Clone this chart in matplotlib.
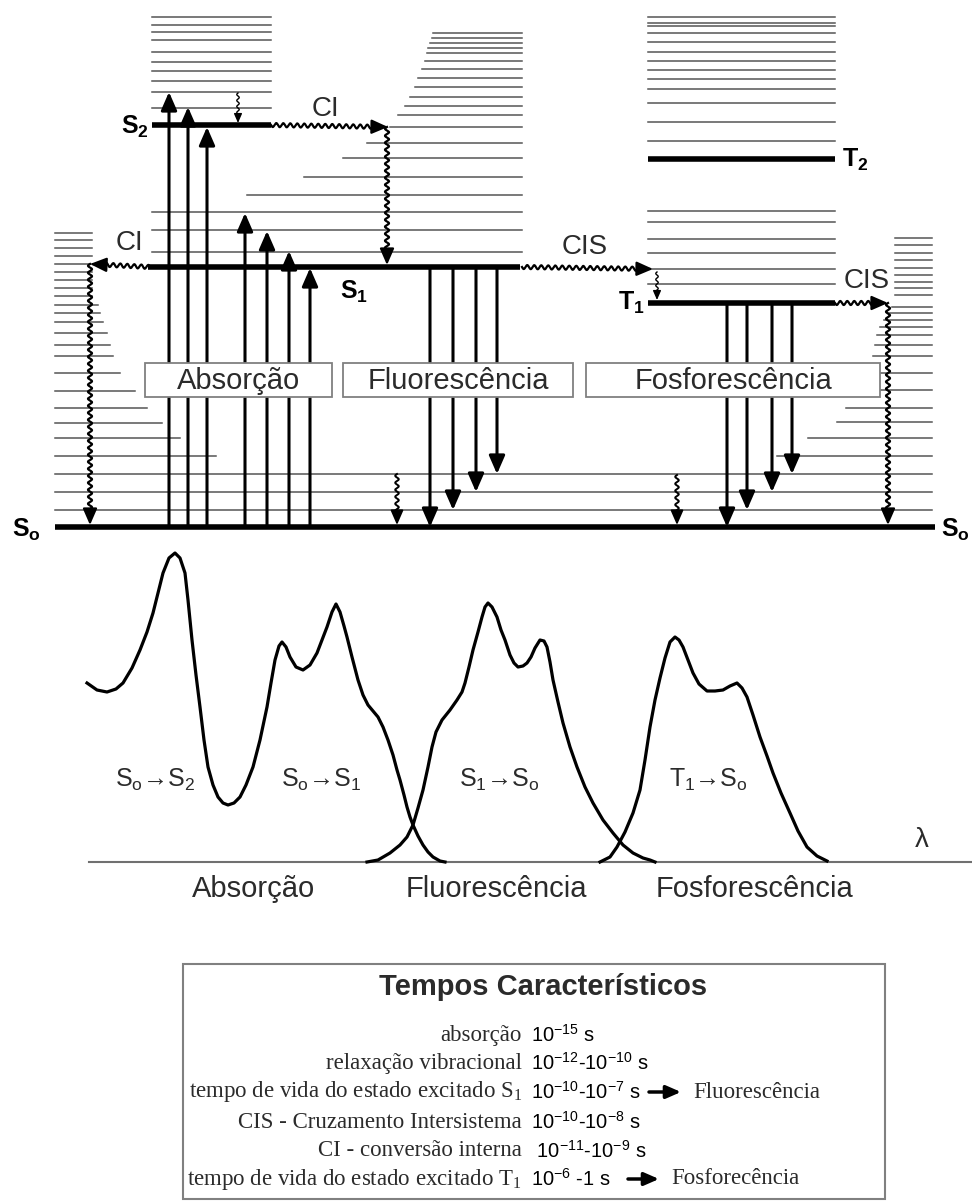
import numpy as np
import matplotlib.pyplot as plt
from matplotlib.patches import Rectangle

plt.rcParams['font.family'] = 'Liberation Sans'
plt.rcParams['mathtext.fontset'] = 'custom'
plt.rcParams['mathtext.rm'] = 'Liberation Sans'
plt.rcParams['mathtext.bf'] = 'Liberation Sans:bold'
plt.rcParams['mathtext.it'] = 'Liberation Sans:italic'

# --- electronic levels (pixel coords of the original drawing) ---
level_names = [r'$\mathbf{S}_\mathbf{o}$', r'$\mathbf{S}_\mathbf{1}$', r'$\mathbf{S}_\mathbf{2}$',
               r'$\mathbf{T}_\mathbf{1}$', r'$\mathbf{T}_\mathbf{2}$']
level_y = [527, 267, 125, 303, 159]
level_x0 = [55, 148, 152, 648, 648]
level_x1 = [935, 520, 271, 835, 835]

# vibrational sub-levels
s2_vib_y = [17, 25, 32, 40, 52, 62, 71, 81, 92, 108]
s1_vib_y = [33, 38, 43, 48, 53, 61, 69, 78, 87, 97, 106, 115, 127, 143, 158, 177, 195, 212, 230, 252]
s1_vib_x0 = [433, 432, 430, 428, 427, 425, 422, 418, 415, 410, 405, 398, 390, 367, 343, 304, 247, 152, 152, 152]
t_vib_y = [17, 23, 26, 33, 42, 52, 61, 70, 79, 89, 103, 122, 141, 211, 222, 239, 253, 269, 284]
s0_left_y = [233, 240, 248, 256, 264, 272, 280, 288, 296, 305, 313, 322, 333, 345, 356, 373, 391, 408, 423, 438, 456]
s0_left_x1 = [92, 92, 92, 92, 92, 92, 92, 92, 92, 98, 100, 103, 107, 110, 113, 120, 135, 147, 162, 180, 216]
s0_right_y = [238, 245, 253, 260, 268, 275, 282, 288, 295, 307, 313, 320, 327, 335, 345, 356, 373, 390, 408, 422, 438, 456]
s0_right_x0 = [895, 895, 895, 895, 895, 895, 895, 895, 895, 892, 888, 884, 880, 877, 875, 873, 873, 872, 846, 837, 808, 777]
s0_full_y = [474, 492, 510]

# radiative transitions
abs_x = [169, 188, 207, 245, 267, 289, 310]
abs_top = [92, 107, 127, 213, 231, 251, 268]
flu_x = [430, 453, 476, 497]
flu_tip = [527, 510, 492, 474]
pho_x = [727, 747, 772, 792]
pho_tip = [527, 510, 492, 474]

# spectra
abs_px = [87, 97, 107, 116, 123, 132, 140, 147, 153, 158, 163, 169, 175, 180, 185, 188, 192, 196, 200, 204,
          208, 213, 218, 223, 228, 234, 240, 246, 253, 260, 267, 271, 275, 279, 282, 286, 290, 296, 303, 310,
          317, 322, 327, 332, 336, 340, 344, 347, 352, 358, 363, 368, 373, 378, 383, 388, 393, 397, 400, 404,
          407, 410, 413, 418, 423, 428, 433, 440, 445]
abs_py = [683, 690, 692, 689, 683, 668, 650, 632, 613, 593, 573, 558, 553, 558, 573, 600, 640, 675, 707, 740,
          767, 785, 797, 803, 805, 803, 797, 785, 767, 740, 707, 683, 660, 646, 642, 647, 657, 667, 670, 665,
          653, 640, 627, 612, 604, 612, 626, 637, 657, 680, 695, 705, 711, 717, 727, 740, 755, 770, 780, 795,
          807, 817, 825, 836, 845, 852, 857, 861, 862]
flu_px = [367, 378, 390, 400, 407, 413, 418, 423, 428, 432, 436, 442, 450, 457, 462, 465, 469, 473, 478, 482,
          485, 488, 492, 497, 501, 505, 510, 514, 518, 523, 527, 531, 535, 540, 544, 547, 550, 553, 558, 563,
          570, 577, 585, 593, 603, 613, 623, 633, 643, 650, 655]
flu_py = [862, 860, 853, 845, 837, 825, 808, 790, 767, 747, 732, 720, 710, 700, 692, 683, 667, 650, 632, 617,
          607, 603, 607, 617, 630, 640, 655, 663, 667, 666, 663, 657, 648, 640, 641, 647, 662, 680, 702, 723,
          747, 767, 787, 803, 820, 833, 845, 853, 858, 860, 862]
pho_px = [600, 610, 617, 625, 633, 640, 645, 650, 655, 660, 665, 670, 675, 679, 683, 688, 693, 699, 707, 715,
          723, 730, 737, 742, 747, 753, 760, 767, 773, 781, 790, 798, 807, 817, 827]
pho_py = [862, 857, 847, 832, 813, 790, 760, 727, 700, 678, 658, 642, 637, 640, 647, 660, 673, 684, 691, 691,
          690, 686, 683, 688, 697, 715, 737, 756, 773, 793, 813, 831, 847, 856, 861]

# table of characteristic times
row_labels = ['absorção', 'relaxação vibracional', r'tempo de vida do estado excitado S$_\mathregular{1}$',
              'CIS - Cruzamento Intersistema', 'CI - conversão interna',
              r'tempo de vida do estado excitado T$_\mathregular{1}$']
row_times = [r'$\mathregular{10^{-15}}$ s', r'$\mathregular{10^{-12}}$-$\mathregular{10^{-10}}$ s',
             r'$\mathregular{10^{-10}}$-$\mathregular{10^{-7}}$ s', r'$\mathregular{10^{-10}}$-$\mathregular{10^{-8}}$ s',
             r' $\mathregular{10^{-11}}$-$\mathregular{10^{-9}}$ s', r'$\mathregular{10^{-6}}$ -1 s']
row_y = [1035, 1063, 1092, 1122, 1151, 1179]

TXT = '#2b2b2b'
VIB = '#555555'

fig = plt.figure(figsize=(9.72, 12.02), dpi=100)
ax = fig.add_axes([0, 0, 1, 1])
ax.set_xlim(0, 972)
ax.set_ylim(1202, 0)
ax.axis('off')


def arrow(x0, y0, x1, y1, lw=2.2, hl=0.55, hw=0.24, ms=20):
    ax.annotate('', xy=(x1, y1), xytext=(x0, y0),
                arrowprops=dict(arrowstyle=f'-|>,head_length={hl},head_width={hw}', lw=lw, color='k',
                                mutation_scale=ms, shrinkA=0, shrinkB=0), zorder=4)


def wavy(x0, y0, x1, y1, amp=2.0, wl=7.0, lw=1.6, head=14, ms=18):
    L = np.hypot(x1 - x0, y1 - y0)
    ux, uy = (x1 - x0) / L, (y1 - y0) / L
    s = np.linspace(0, L - head * 0.7, int(L * 3) + 2)
    w = amp * np.sin(2 * np.pi * s / wl)
    ax.plot(x0 + ux * s - uy * w, y0 + uy * s + ux * w, color='k', lw=lw, zorder=4)
    arrow(x1 - ux * head, y1 - uy * head, x1, y1, lw=lw, ms=ms)


# vibrational levels
for y in s2_vib_y:
    ax.plot([152, 271], [y, y], color=VIB, lw=1.1)
for y, x0 in zip(s1_vib_y, s1_vib_x0):
    ax.plot([x0, 522], [y, y], color=VIB, lw=1.1)
for y in t_vib_y:
    ax.plot([648, 835], [y, y], color=VIB, lw=1.1)
for y, x1 in zip(s0_left_y, s0_left_x1):
    ax.plot([55, x1], [y, y], color=VIB, lw=1.1)
for y, x0 in zip(s0_right_y, s0_right_x0):
    ax.plot([x0, 932], [y, y], color=VIB, lw=1.1)
for y in s0_full_y:
    ax.plot([55, 932], [y, y], color=VIB, lw=1.1)

# electronic levels
for y, x0, x1 in zip(level_y, level_x0, level_x1):
    ax.plot([x0, x1], [y, y], color='k', lw=4, solid_capstyle='butt', zorder=3)

lab = dict(fontsize=18, color='k')
ax.text(12, 530, level_names[0], ha='left', va='center', **lab)
ax.text(941, 530, level_names[0], ha='left', va='center', **lab)
ax.text(340, 292, level_names[1], ha='left', va='center', **lab)
ax.text(149, 127, level_names[2], ha='right', va='center', **lab)
ax.text(645, 303, level_names[3], ha='right', va='center', **lab)
ax.text(842, 160, level_names[4], ha='left', va='center', **lab)

# absorption / emission arrows
for x, top in zip(abs_x, abs_top):
    arrow(x, 527, x, top, lw=2.2)
for x, tip in zip(flu_x, flu_tip):
    arrow(x, 267, x, tip, lw=2.2)
for x, tip in zip(pho_x, pho_tip):
    arrow(x, 303, x, tip, lw=2.2)

# non-radiative transitions
wavy(271, 125, 388, 127)
wavy(387, 127, 387, 265)
wavy(150, 267, 90, 264)
wavy(90, 264, 90, 525)
wavy(522, 267, 653, 269)
wavy(835, 303, 888, 303)
wavy(888, 303, 888, 525)
wavy(238, 93, 238, 123, amp=1.2, wl=6, lw=1.0, head=8, ms=10)
wavy(657, 272, 657, 300, amp=1.2, wl=6, lw=1.0, head=8, ms=10)
wavy(397, 474, 397, 525, amp=1.8, wl=7, lw=1.4, head=12, ms=16)
wavy(677, 475, 677, 525, amp=1.8, wl=7, lw=1.4, head=12, ms=16)

for txt, x, y in [('CI', 325, 109), ('CI', 129, 243), ('CIS', 585, 247), ('CIS', 867, 281)]:
    ax.text(x, y, txt, ha='center', va='center', fontsize=20, color=TXT, zorder=5)

# process boxes
for txt, x0, x1 in [('Absorção', 145, 332), ('Fluorescência', 343, 573), ('Fosforescência', 586, 880)]:
    ax.add_patch(Rectangle((x0, 363), x1 - x0, 34, facecolor='white', edgecolor='#808080', lw=1.3, zorder=6))
    ax.text((x0 + x1) / 2, 381, txt, ha='center', va='center', fontsize=21, color=TXT, zorder=7)

# spectra
ax.plot([89, 972], [862, 862], color='#707070', lw=1.5)
ax.plot(abs_px, abs_py, color='k', lw=2.3, solid_joinstyle='round')
ax.plot(flu_px, flu_py, color='k', lw=2.3, solid_joinstyle='round')
ax.plot(pho_px, pho_py, color='k', lw=2.3, solid_joinstyle='round')
ax.text(922, 840, 'λ', ha='center', va='center', fontsize=20, color=TXT)

trans = [(r'S$_\mathregular{o}$→S$_\mathregular{2}$', 115), (r'S$_\mathregular{o}$→S$_\mathregular{1}$', 281),
         (r'S$_\mathregular{1}$→S$_\mathregular{o}$', 459), (r'T$_\mathregular{1}$→S$_\mathregular{o}$', 669)]
for txt, x in trans:
    ax.text(x, 780, txt, ha='left', va='center', fontsize=18, color=TXT)

for txt, x in [('Absorção', 254), ('Fluorescência', 496), ('Fosforescência', 754)]:
    ax.text(x, 889, txt, ha='center', va='center', fontsize=21, color=TXT)

# characteristic times box
ax.add_patch(Rectangle((183, 964), 702, 235, facecolor='white', edgecolor='#808080', lw=1.5))
ax.text(543, 987, 'Tempos Característicos', ha='center', va='center', fontsize=21,
        fontweight='bold', color=TXT)
for lbl, tm, y in zip(row_labels, row_times, row_y):
    ax.text(522, y, lbl, ha='right', va='center', fontsize=16.5, family='Liberation Serif', color=TXT)
    ax.text(531, y, tm, ha='left', va='center', fontsize=14.5, color='k')
arrow(649, 1092, 681, 1092, lw=2.5, ms=16)
ax.text(693, 1092, 'Fluorescência', ha='left', va='center', fontsize=16.5, family='Liberation Serif', color=TXT)
arrow(628, 1179, 659, 1179, lw=2.5, ms=16)
ax.text(671, 1179, 'Fosforecência', ha='left', va='center', fontsize=16.5, family='Liberation Serif', color=TXT)

fig.savefig('out.png', dpi=100)
